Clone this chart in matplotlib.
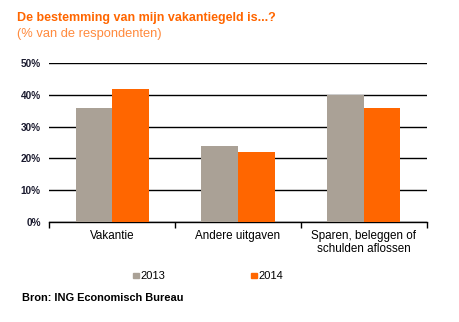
import numpy as np
import matplotlib.pyplot as plt
from matplotlib.patches import Rectangle

plt.rcParams["font.family"] = ["Liberation Sans", "DejaVu Sans"]

categories = ["Vakantie", "Andere uitgaven", "Sparen, beleggen of\nschulden aflossen"]
years = ["2013", "2014"]
v2013 = [36, 24, 40]
v2014 = [42, 22, 36]
yticks = [0, 10, 20, 30, 40, 50]

GRAY = "#aaa196"
ORANGE = "#ff6600"

fig = plt.figure(figsize=(4.59, 3.22), dpi=100)
ax = fig.add_axes([0.107, 0.311, 0.823, 0.493])

x = np.arange(len(categories))
w = 0.29
ax.bar(x - w / 2, v2013, w, color=GRAY, zorder=3)
ax.bar(x + w / 2, v2014, w, color=ORANGE, zorder=3)

ax.set_xlim(-0.5, 2.5)
ax.set_ylim(0, 50)
ax.set_yticks(yticks)
ax.set_yticklabels([f"{t}%" for t in yticks], fontsize=7.2, fontweight="bold", color="#1a1a2e")
ax.yaxis.grid(True, color="black", lw=1.0, zorder=0)
ax.tick_params(axis="y", length=0, pad=6)

ax.set_xticks(x)
ax.set_xticklabels(categories, fontsize=8.4, linespacing=1.05)
ax.set_xticks([-0.5, 0.5, 1.5, 2.5], minor=True)
ax.tick_params(axis="x", which="major", length=0, pad=6)
ax.tick_params(axis="x", which="minor", length=4, width=1, direction="out")

for s in ["top", "right", "left"]:
    ax.spines[s].set_visible(False)
ax.spines["bottom"].set_linewidth(1.0)

# title
fig.text(0.037, 0.945, "De bestemming van mijn vakantiegeld is...?", color=ORANGE,
         fontsize=9, fontweight="bold", va="center")
fig.text(0.037, 0.895, "(% van de respondenten)", color="#ff8a3d", fontsize=9.3, va="center")

# legend
for lx, yr, col in [(0.307, years[0], GRAY), (0.564, years[1], ORANGE)]:
    fig.patches.append(Rectangle((lx - 0.017, 0.136), 0.012, 0.017, color=col,
                                 transform=fig.transFigure, figure=fig))
    fig.text(lx, 0.143, yr, fontsize=8, va="center")

fig.text(0.048, 0.075, "Bron: ING Economisch Bureau", fontsize=7.9, fontweight="bold", va="center")

fig.savefig("out.png", dpi=100, facecolor="white")
